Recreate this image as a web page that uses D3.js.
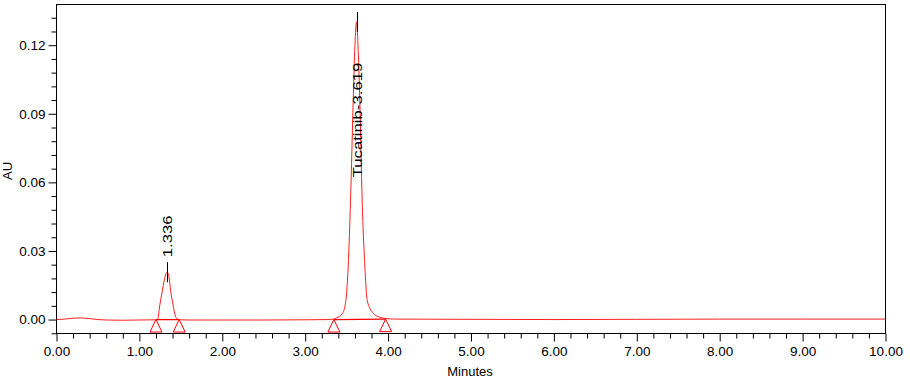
<!DOCTYPE html>
<html>
<head>
<meta charset="utf-8">
<script src="https://cdn.jsdelivr.net/npm/d3@7"></script>
<style>
  html, body { margin: 0; padding: 0; background: #fff; }
  svg { display: block; font-family: Arial, "Liberation Sans", sans-serif; }
</style>
</head>
<body>
<svg id="chart" width="910" height="380"></svg>
<script>
// ---- data ----
const traceTime = [0.00,0.10,0.20,0.30,0.40,0.50,0.60,0.80,1.00,1.20,1.22,1.246,1.274,1.300,1.320,1.336,1.352,1.379,1.407,1.430,1.448,1.49,1.60,2.00,2.50,3.00,3.30,3.378,3.451,3.491,3.518,3.547,3.579,3.600,3.619,3.640,3.659,3.687,3.720,3.748,3.820,3.900,3.961,4.10,5.00,6.00,7.00,8.00,9.00,10.00];
const traceAU   = [0.0000,0.0002,0.0006,0.0007,0.0004,0.0000,-0.0002,-0.0003,-0.0002,-0.0001,0.0000,0.0063,0.0121,0.0172,0.0200,0.0207,0.0196,0.0121,0.0063,0.0020,0.0005,-0.0001,-0.0002,-0.0002,-0.0002,-0.0001,0.0000,0.0007,0.0028,0.0084,0.0230,0.0521,0.0957,0.1200,0.1302,0.1170,0.0957,0.0521,0.0230,0.0084,0.0028,0.0010,0.0005,0.0002,0.0001,0.0000,0.0001,0.0002,0.0002,0.0002];

const peakLabels = ["1.336", "Tucatinib-3.619"];
const peakRT     = [1.336, 3.619];
const peakHeight = [0.0207, 0.1302];
const peakStart  = [1.20, 3.346];
const peakEnd    = [1.48, 3.97];
const peakStartAU = [0.0000, 0.0000];
const peakEndAU   = [0.0000, 0.0002];

const xTickValues = [0,1,2,3,4,5,6,7,8,9,10];
const xTickLabels = ["0.00","1.00","2.00","3.00","4.00","5.00","6.00","7.00","8.00","9.00","10.00"];
const yTickValues = [0.00,0.03,0.06,0.09,0.12];
const yTickLabels = ["0.00","0.03","0.06","0.09","0.12"];
const xAxisTitle = "Minutes";
const yAxisTitle = "AU";

// ---- layout ----
const svg = d3.select("#chart");
const L = 56.5, R = 885.5, T = 4.5, B = 333.5;
const x = d3.scaleLinear().domain([0, 10]).range([L, R]);
const y = d3.scaleLinear().domain([-0.0061, 0.1378]).range([B, T]);

// minor ticks
const xMinor = d3.range(0, 10.0001, 0.2).filter(v => Math.abs(v - Math.round(v)) > 1e-6);
const yMinor = d3.range(-0.006, 0.1361, 0.006).filter(v => !yTickValues.some(t => Math.abs(t - v) < 1e-6));

// X axis
const gx = svg.append("g").attr("transform", `translate(0,${B})`);
gx.call(d3.axisBottom(x).tickValues(xTickValues).tickSize(8).tickPadding(5)
  .tickFormat((d, i) => xTickLabels[i]));
gx.append("g").call(d3.axisBottom(x).tickValues(xMinor).tickSize(5).tickFormat(""));
gx.selectAll(".domain").remove();
gx.selectAll("text").attr("font-size", "13.5px").attr("fill", "#000").attr("font-family", "Arial, 'Liberation Sans', sans-serif");
gx.selectAll("line").attr("stroke", "#000");

// Y axis
const gy = svg.append("g").attr("transform", `translate(${L},0)`);
gy.call(d3.axisLeft(y).tickValues(yTickValues).tickSize(8).tickPadding(3)
  .tickFormat((d, i) => yTickLabels[i]));
gy.append("g").call(d3.axisLeft(y).tickValues(yMinor).tickSize(5).tickFormat(""));
gy.selectAll(".domain").remove();
gy.selectAll("text").attr("font-size", "13.5px").attr("fill", "#000").attr("font-family", "Arial, 'Liberation Sans', sans-serif");
gy.selectAll("line").attr("stroke", "#000");

// frame
svg.append("rect").attr("x", L).attr("y", T).attr("width", R - L).attr("height", B - T)
  .attr("fill", "none").attr("stroke", "#000").attr("stroke-width", 1);

// titles
svg.append("text").attr("x", (L + R) / 2 - 1).attr("y", 376).attr("text-anchor", "middle")
  .attr("font-size", "13px").text(xAxisTitle);
svg.append("text").attr("transform", `translate(11.5,171) rotate(-90)`).attr("text-anchor", "middle")
  .attr("font-size", "13px").text(yAxisTitle);

// clip
svg.append("clipPath").attr("id", "clip").append("rect")
  .attr("x", L).attr("y", T).attr("width", R - L).attr("height", B - T);
const plot = svg.append("g").attr("clip-path", "url(#clip)");

// trace
const pts = traceTime.map((t, i) => [t, traceAU[i]]);
const line = d3.line().x(d => x(d[0])).y(d => y(d[1])).curve(d3.curveMonotoneX);
plot.append("path").datum(pts).attr("d", line)
  .attr("fill", "none").attr("stroke", "#ff2020").attr("stroke-width", 1);

// integration baselines
peakRT.forEach((rt, i) => {
  plot.append("line")
    .attr("x1", x(peakStart[i])).attr("y1", y(peakStartAU[i]))
    .attr("x2", x(peakEnd[i])).attr("y2", y(peakEndAU[i]))
    .attr("stroke", "#ff0000").attr("stroke-width", 1.2);
});

// start/end triangles
const triPath = (px, py) => `M${px},${py} L${px - 6},${py + 12.5} L${px + 6},${py + 12.5} Z`;
peakRT.forEach((rt, i) => {
  [[peakStart[i], peakStartAU[i]], [peakEnd[i], peakEndAU[i]]].forEach(([t, v]) => {
    plot.append("path").attr("d", triPath(x(t), y(v)))
      .attr("fill", "none").attr("stroke", "#ff0000").attr("stroke-width", 1);
  });
});

// apex markers and labels
const fs = 13.5, stretch = 1.24;
peakRT.forEach((rt, i) => {
  const px = Math.round(x(rt)) + 0.5;
  const py = y(peakHeight[i]);
  svg.append("line").attr("x1", px).attr("x2", px).attr("y1", py - 10).attr("y2", py + 10)
    .attr("stroke", "#000").attr("stroke-width", 1);
  const approxLen = peakLabels[i].length * fs * 0.5 * stretch;
  let bottom = py - 15;
  if (bottom - approxLen < T) bottom = y(0.0622);
  svg.append("text")
    .attr("transform", `translate(${px},${bottom}) rotate(-90) scale(${stretch},1)`)
    .attr("dy", "0.36em")
    .attr("font-size", fs + "px").attr("fill", "#000")
    .text(peakLabels[i]);
});
</script>
</body>
</html>
